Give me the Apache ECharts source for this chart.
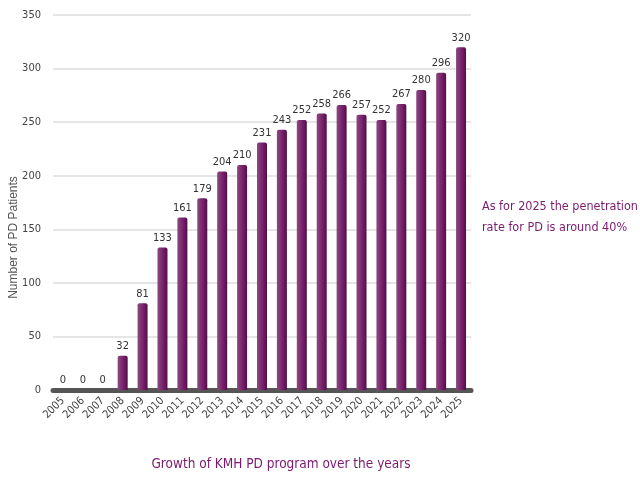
<!DOCTYPE html>
<html>
<head>
<meta charset="utf-8">
<script src="https://cdn.jsdelivr.net/npm/echarts@6/dist/echarts.min.js"></script>
<style>
  html, body { margin: 0; padding: 0; background: #fff; }
  #chartmain { width: 640px; height: 480px; }
</style>
</head>
<body>
<div id="chartmain"></div>
<script>
var years = ['2005', '2006', '2007', '2008', '2009', '2010', '2011', '2012', '2013', '2014', '2015',
	'2016', '2017', '2018', '2019', '2020', '2021', '2022', '2023', '2024', '2025'];
var patients = [0, 0, 0, 32, 81, 133, 161, 179, 204, 210, 231, 243, 252, 258, 266, 257, 252, 267, 280, 296, 320];
var yTicks = [0, 50, 100, 150, 200, 250, 300, 350];

var font = '"DejaVu Sans Condensed", "Liberation Sans", Arial, sans-serif';
var purple = '#7a1a6e';

var option = {
	animation : false,
	textStyle : { fontFamily : font },
	title : [ {
		text : 'Growth of KMH PD program over the years',
		left : 276,
		top : 452,
		textAlign : 'center',
		textStyle : { color : purple, fontSize : 13.5, fontWeight : 'normal', fontFamily : font }
	}, {
		text : 'As for 2025 the penetration\nrate for PD is around 40%',
		left : 477,
		top : 191,
		textStyle : { color : purple, fontSize : 12.5, fontWeight : 'normal', lineHeight : 21, fontFamily : font }
	} ],
	grid : {
		left : 53,
		right : 169,
		top : 15,
		bottom : 90,
		containLabel : false,
		outerBoundsMode : 'none'
	},
	xAxis : {
		type : 'category',
		data : years,
		axisLine : { lineStyle : { color : '#555', width : 5 } },
		axisTick : { show : false },
		axisLabel : {
			rotate : 45,
			color : '#444',
			fontSize : 11,
			margin : 9,
			interval : 0,
			fontFamily : font
		}
	},
	yAxis : {
		type : 'value',
		name : 'Number of PD Patients',
		nameLocation : 'middle',
		nameGap : 33,
		nameMoveOverlap : false,
		nameTextStyle : {
			color : '#555',
			fontSize : 12,
			padding : [0, 70, 0, 0],
			fontFamily : 'Liberation Sans, Arial, sans-serif'
		},
		min : yTicks[0],
		max : yTicks[yTicks.length - 1],
		interval : 50,
		axisLine : { show : false },
		axisTick : { show : false },
		axisLabel : { color : '#444', fontSize : 11, margin : 12, fontFamily : font },
		splitLine : { lineStyle : { color : '#dddddd', width : 1.5 } }
	},
	series : [ {
		type : 'bar',
		data : patients,
		barWidth : 10,
		itemStyle : {
			color : new echarts.graphic.LinearGradient(0, 0, 1, 0, [
				{ offset : 0, color : '#8a4a80' },
				{ offset : 0.65, color : '#741a67' },
				{ offset : 1, color : '#4e1045' }
			]),
			borderRadius : [2, 2, 0, 0]
		},
		label : {
			show : true,
			position : 'top',
			distance : 4,
			color : '#333',
			fontSize : 11,
			fontFamily : font
		}
	} ]
};

var myChart = echarts.init(document.getElementById('chartmain'));
myChart.setOption(option);
</script>
</body>
</html>
